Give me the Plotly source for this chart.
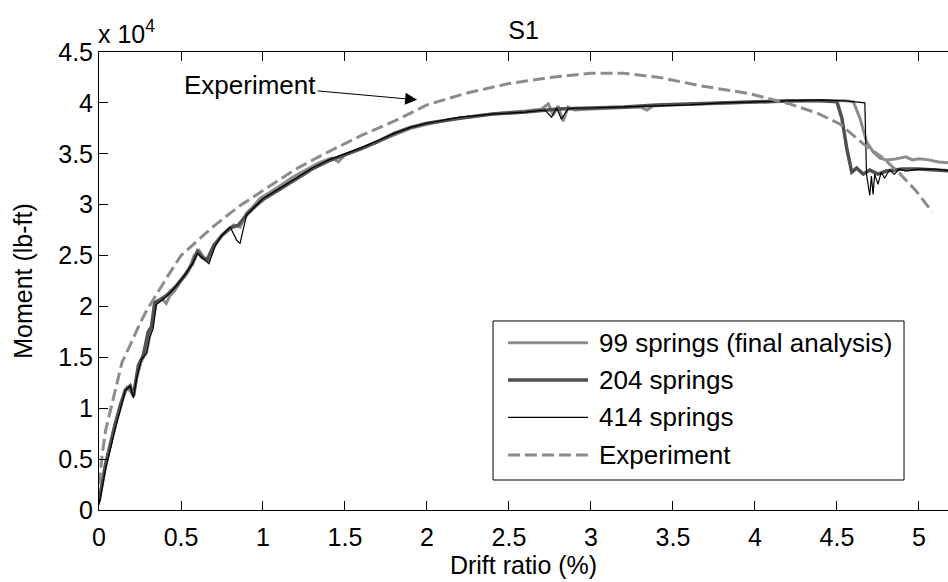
import plotly.graph_objects as go

# ---------------- data (moment in lb-ft, drift ratio in %) ----------------
x_99 = [0.00, 0.03, 0.08, 0.13, 0.17, 0.19, 0.21, 0.23, 0.26, 0.29,
        0.31, 0.33, 0.35, 0.38, 0.41, 0.43, 0.46, 0.50, 0.54, 0.58,
        0.61, 0.64, 0.67, 0.70, 0.74, 0.78, 0.82, 0.86, 0.90, 0.94,
        0.98, 1.04, 1.10, 1.18, 1.26, 1.34, 1.42, 1.46, 1.50, 1.56,
        1.64, 1.72, 1.80, 1.90, 2.00, 2.15, 2.30, 2.45, 2.60, 2.70,
        2.74, 2.77, 2.80, 2.83, 2.86, 2.90, 3.00, 3.15, 3.30, 3.34,
        3.38, 3.50, 3.70, 3.90, 4.10, 4.30, 4.45, 4.55, 4.60, 4.64,
        4.68, 4.72, 4.76, 4.80, 4.86, 4.92, 4.96, 5.00, 5.06, 5.12,
        5.20]
m_99 = [1000, 3500, 7200, 10500, 12000, 11700, 11200, 13000, 14700, 15500,
        17200, 19000, 20500, 20800, 20300, 21000, 21500, 22500, 23300, 25000,
        25500, 24800, 24500, 25800, 26800, 27400, 28000, 27800, 29200, 29800,
        30600, 31200, 31800, 32700, 33400, 34100, 34600, 34200, 34900, 35300,
        35800, 36300, 36900, 37500, 37900, 38400, 38700, 39000, 39200, 39400,
        39900, 38800, 39700, 38200, 39600, 39300, 39400, 39500, 39600, 39300,
        39700, 39800, 39900, 40000, 40100, 40200, 40200, 40200, 40100, 38500,
        36200, 35200, 34600, 34400, 34500, 34700, 34400, 34500, 34400, 34200,
        34100]

x_204 = [0.00, 0.04, 0.10, 0.16, 0.19, 0.21, 0.24, 0.27, 0.30, 0.32,
         0.34, 0.37, 0.42, 0.47, 0.52, 0.57, 0.60, 0.63, 0.66, 0.70,
         0.75, 0.80, 0.85, 0.90, 0.95, 1.00, 1.10, 1.20, 1.30, 1.40,
         1.50, 1.60, 1.70, 1.80, 1.90, 2.00, 2.20, 2.40, 2.60, 2.80,
         3.00, 3.20, 3.40, 3.60, 3.80, 4.00, 4.20, 4.40, 4.50, 4.53,
         4.56, 4.59, 4.62, 4.66, 4.70, 4.75, 4.80, 4.90, 5.00, 5.10,
         5.20]
m_204 = [800, 4500, 8500, 11800, 12200, 11200, 14200, 15200, 17500, 18000,
         20400, 20600, 21200, 22000, 23000, 24200, 25400, 24800, 24600, 26000,
         27000, 27700, 28000, 29000, 29800, 30500, 31500, 32500, 33500, 34300,
         34900, 35500, 36200, 37000, 37600, 38000, 38500, 38900, 39100, 39400,
         39500, 39600, 39800, 39900, 40000, 40100, 40200, 40200, 40100, 38500,
         35500, 33200, 33600, 33000, 33400, 33000, 33300, 33500, 33500, 33400,
         33300]

x_414 = [0.00, 0.04, 0.10, 0.16, 0.19, 0.21, 0.23, 0.26, 0.29, 0.31,
         0.33, 0.35, 0.40, 0.46, 0.52, 0.57, 0.60, 0.63, 0.67, 0.71,
         0.75, 0.80, 0.84, 0.86, 0.90, 0.95, 1.00, 1.10, 1.20, 1.30,
         1.40, 1.50, 1.60, 1.70, 1.80, 1.90, 2.00, 2.20, 2.40, 2.60,
         2.72, 2.76, 2.79, 2.82, 2.86, 2.90, 3.00, 3.20, 3.40, 3.60,
         3.80, 4.00, 4.20, 4.40, 4.55, 4.64, 4.67, 4.68, 4.70, 4.71,
         4.72, 4.73, 4.75, 4.77, 4.79, 4.82, 4.85, 4.88, 4.92, 5.00,
         5.10, 5.20]
m_414 = [500, 4000, 8000, 11700, 12200, 11000, 13000, 14800, 15400, 17000,
         17800, 20200, 20800, 21800, 23000, 24200, 25200, 24800, 24200, 26000,
         27000, 27800, 26500, 26200, 29000, 29800, 30600, 31600, 32600, 33600,
         34400, 35000, 35600, 36300, 37000, 37600, 38000, 38600, 38900, 39100,
         39300, 38600, 39500, 38400, 39400, 39500, 39500, 39600, 39700, 39800,
         40000, 40100, 40200, 40300, 40200, 40100, 40000, 33000, 30900, 32800,
         31000, 33000, 32000, 33200, 32600, 33400, 33000, 33500, 33300, 33500,
         33500, 33300]

x_exp = [0.00, 0.02, 0.04, 0.07, 0.10, 0.14, 0.19, 0.24, 0.29, 0.35,
         0.42, 0.50, 0.60, 0.70, 0.85, 1.00, 1.20, 1.40, 1.60, 1.80,
         2.00, 2.25, 2.50, 2.75, 3.00, 3.20, 3.42, 3.66, 3.97, 4.21,
         4.38, 4.52, 4.68, 4.78, 4.88, 4.98, 5.08]
m_exp = [2500, 5500, 7800, 9800, 12000, 14500, 16200, 18000, 19600, 21200,
         23000, 25000, 26500, 27900, 29800, 31400, 33500, 35200, 36800, 38200,
         39800, 41000, 41900, 42500, 42900, 42900, 42500, 41700, 40900, 39900,
         39000, 37900, 35700, 34600, 33100, 31400, 29300]

y_ticks = [0, 5000, 10000, 15000, 20000, 25000, 30000, 35000, 40000, 45000]
y_tick_labels = ["0", "0.5", "1", "1.5", "2", "2.5", "3", "3.5", "4", "4.5"]
x_ticks = [0, 0.5, 1, 1.5, 2, 2.5, 3, 3.5, 4, 4.5, 5]
x_tick_labels = ["0", "0.5", "1", "1.5", "2", "2.5", "3", "3.5", "4", "4.5", "5"]

series_names = ["99 springs (final analysis)", "204 springs", "414 springs", "Experiment"]
series_colors = ["#8c8c8c", "#505050", "#000000", "#8c8c8c"]
series_widths = [3, 3.5, 1.2, 3]
series_dash = ["solid", "solid", "solid", "12px,5px"]

# ---------------- figure ----------------
FONT = "Liberation Sans, Arial, sans-serif"
FS = 25
fig = go.Figure()
for xs, ys, i in [(x_99, m_99, 0), (x_204, m_204, 1), (x_414, m_414, 2), (x_exp, m_exp, 3)]:
    fig.add_trace(go.Scatter(x=xs, y=ys, mode="lines", name=series_names[i],
                             showlegend=False,
                             line=dict(color=series_colors[i], width=series_widths[i],
                                       dash=series_dash[i])))

fig.update_layout(
    width=948, height=582,
    margin=dict(l=99, r=0, t=52, b=72),
    paper_bgcolor="white", plot_bgcolor="white",
    font=dict(family=FONT, size=FS, color="black"),
    title=dict(text="S1", x=0.5, xref="paper", xanchor="center",
               y=1 - 30 / 582, yanchor="middle",
               font=dict(family=FONT, size=FS, color="black")),
    showlegend=False,
    xaxis=dict(range=[0, 5.177], tickvals=x_ticks, ticktext=x_tick_labels,
               showgrid=False, zeroline=False, showline=True, linecolor="black",
               linewidth=1, ticks="inside", ticklen=9, tickcolor="black",
               mirror="ticks", tickfont=dict(family=FONT, size=FS),
               ticklabelstandoff=5,
               title=dict(text="Drift ratio (%)", standoff=4,
                          font=dict(family=FONT, size=FS))),
    yaxis=dict(range=[0, 45000], tickvals=y_ticks, ticktext=y_tick_labels,
               showgrid=False, zeroline=False, showline=True, linecolor="black",
               linewidth=1, ticks="inside", ticklen=9, tickcolor="black",
               tickfont=dict(family=FONT, size=FS),
               title=dict(text="Moment (lb-ft)", standoff=18,
                          font=dict(family=FONT, size=FS))),
)

# multiplier label
fig.add_annotation(text="x 10<sup>4</sup>", xref="paper", yref="paper",
                   x=-0.003, y=1 + 20 / 458, xanchor="left", yanchor="middle",
                   showarrow=False, font=dict(family=FONT, size=FS, color="black"))

# arrow annotation
fig.add_annotation(text="Experiment", x=1.94, y=40300, xref="x", yref="y",
                   ax=-167, ay=-15, showarrow=True, arrowhead=2, arrowsize=2.4,
                   arrowwidth=1, arrowcolor="black",
                   font=dict(family=FONT, size=26, color="black"))

# legend (box, line samples and labels, in plot-area fractions)
LX0, LX1, LY0, LY1 = 0.4641, 0.9482, 0.0655, 0.4127
row_y = [0.3653, 0.2838, 0.2024, 0.1201]
fig.add_shape(type="rect", xref="paper", yref="paper", x0=LX0, x1=LX1, y0=LY0, y1=LY1,
              line=dict(color="black", width=1), fillcolor="white", layer="above")
for i, ry in enumerate(row_y):
    fig.add_shape(type="line", xref="paper", yref="paper", x0=0.4817, x1=0.576,
                  y0=ry, y1=ry, layer="above",
                  line=dict(color=series_colors[i], width=series_widths[i],
                            dash=series_dash[i]))
    fig.add_annotation(text=series_names[i], xref="paper", yref="paper",
                       x=0.5866, y=ry, xanchor="left", yanchor="middle",
                       showarrow=False, font=dict(family=FONT, size=26, color="black"))

fig.write_html("out.html")
